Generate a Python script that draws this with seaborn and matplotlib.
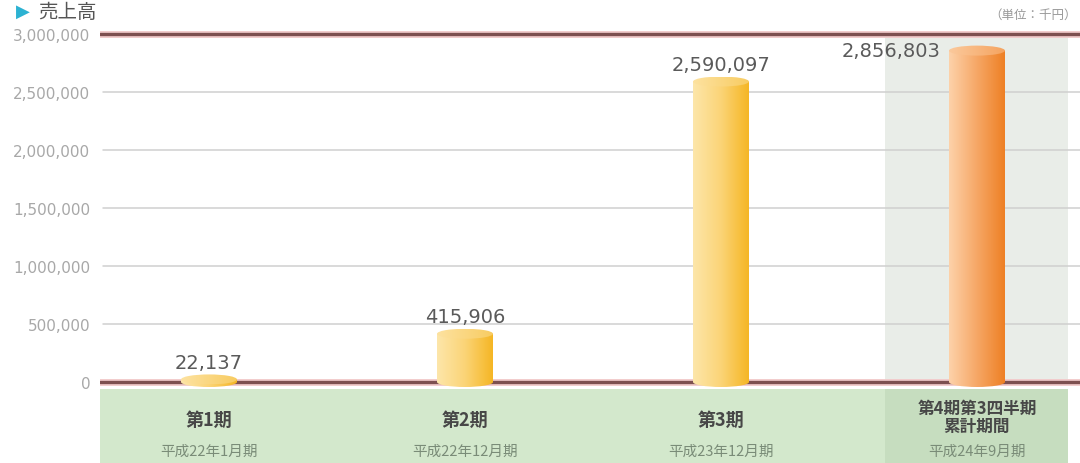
import numpy as np
import matplotlib
matplotlib.use("Agg")
import matplotlib.pyplot as plt
import seaborn as sns
import pandas as pd
from matplotlib.patches import Ellipse, Rectangle
from matplotlib.colors import LinearSegmentedColormap

# ---------------- data ----------------
periods = ["第1期", "第2期", "第3期", "第4期第3四半期\n累計期間"]
period_dates = ["平成22年1月期", "平成22年12月期", "平成23年12月期", "平成24年9月期"]
sales = [22137, 415906, 2590097, 2856803]
value_labels = ["22,137", "415,906", "2,590,097", "2,856,803"]
yticks = [0, 500000, 1000000, 1500000, 2000000, 2500000, 3000000]
ytick_labels = ["0", "500,000", "1,000,000", "1,500,000", "2,000,000", "2,500,000", "3,000,000"]
title = "売上高"
unit_label = "（単位：千円）"

# ---------------- style ----------------
sns.set_theme(style="white")
plt.rcParams['font.family'] = ['Noto Sans CJK JP', 'DejaVu Sans']

W, H = 1080, 464
fig = plt.figure(figsize=(W / 100, H / 100), dpi=100)
fig.patch.set_facecolor("white")
ax = fig.add_axes([100 / W, 0, 980 / W, 1])
ax.set_facecolor("none")

PX = 3e6 / 348.0          # data units per pixel (vertical)
UX = 256.0                # pixels per category (horizontal)
BW = 56 / UX              # bar width in category units
EH = 10 * PX              # ellipse height for cylinder caps

df = pd.DataFrame({"period": periods, "sales": sales})
sns.barplot(data=df, x="period", y="sales", ax=ax, width=BW, color="#f6c040",
            saturation=1, zorder=3)
bars = list(ax.patches)

ax.set_ylim(-81 * PX, 3e6 + 35 * PX)
ax.set_xlim(-109 / UX, 871 / UX)

for s in ax.spines.values():
    s.set_visible(False)

# ---------------- backgrounds ----------------
x_col0 = (885 - 209) / UX
x_col1 = (1068 - 209) / UX
x_left = (100 - 209) / UX
ax.add_patch(Rectangle((x_col0, 0), x_col1 - x_col0, 3e6, facecolor="#e9ede8",
                       edgecolor="none", zorder=0))
ax.add_patch(Rectangle((x_left, -81 * PX), x_col1 - x_left, 74 * PX,
                       facecolor="#d3e8cc", edgecolor="none", zorder=0))
ax.add_patch(Rectangle((x_col0, -81 * PX), x_col1 - x_col0, 74 * PX,
                       facecolor="#c6ddbf", edgecolor="none", zorder=0.5))

# ---------------- grid lines ----------------
for t in yticks[1:-1]:
    ax.axhline(t, xmin=3 / 980, color="#cfcfcf", lw=1.1, zorder=1)
for t in (yticks[0], yticks[-1]):
    ax.axhline(t, color="#f2cccc", lw=5, zorder=1.5)
    ax.axhline(t, color="#7d5050", lw=2.4, zorder=1.6)

# ---------------- cylinder bars ----------------
grad = np.linspace(0, 1, 256).reshape(1, -1)
body_yellow = LinearSegmentedColormap.from_list("by", ["#fde6aa", "#fbd477", "#f5b624"])
top_yellow = LinearSegmentedColormap.from_list("ty", ["#fde2a0", "#f8cc62"])
body_orange = LinearSegmentedColormap.from_list("bo", ["#fdd2aa", "#f6a766", "#ee8024"])
top_orange = LinearSegmentedColormap.from_list("to", ["#fbc99c", "#f5a460"])

for i, p in enumerate(bars):
    x0 = p.get_x()
    w = p.get_width()
    cx = x0 + w / 2
    v = sales[i]
    cm_body = body_orange if i == 3 else body_yellow
    cm_top = top_orange if i == 3 else top_yellow
    p.set_facecolor("none")
    p.set_edgecolor("none")
    # body
    im = ax.imshow(grad, extent=[x0, x0 + w, 0, v], aspect="auto", cmap=cm_body,
                   interpolation="bicubic", zorder=3)
    im.set_clip_path(p)
    # bottom cap
    eb = Ellipse((cx, 0), w, EH, facecolor="none", edgecolor="none", zorder=3)
    ax.add_patch(eb)
    im2 = ax.imshow(grad, extent=[x0, x0 + w, -EH / 2, EH / 2], aspect="auto",
                    cmap=cm_body, interpolation="bicubic", zorder=3)
    im2.set_clip_path(eb)
    # top cap
    et = Ellipse((cx, v), w, EH, facecolor="none", edgecolor="none", zorder=4)
    ax.add_patch(et)
    im3 = ax.imshow(grad, extent=[x0, x0 + w, v - EH / 2, v + EH / 2], aspect="auto",
                    cmap=cm_top, interpolation="bicubic", zorder=4)
    im3.set_clip_path(et)

ax.set_ylim(-81 * PX, 3e6 + 35 * PX)
ax.set_xlim(-109 / UX, 871 / UX)

# ---------------- value labels ----------------
for i in range(3):
    ax.annotate(value_labels[i], (i, sales[i] + EH / 2), xytext=(0, 2),
                textcoords="offset points", ha="center", va="bottom",
                fontsize=14, color="#5a5a5a", family="DejaVu Sans", zorder=5)
ax.annotate(value_labels[3], (3 - BW / 2, sales[3]), xytext=(-6, 0),
            textcoords="offset points", ha="right", va="center",
            fontsize=14, color="#5a5a5a", family="DejaVu Sans", zorder=5)

# ---------------- axis ticks ----------------
ax.set_yticks(yticks)
ax.set_yticklabels(ytick_labels, fontsize=11, color="#a8a8a8", family="DejaVu Sans")
ax.tick_params(axis="y", length=0, pad=7)
ax.tick_params(axis="x", length=0, labelbottom=False)
ax.set_xlabel("")
ax.set_ylabel("")

# ---------------- category labels ----------------
tr = ax.get_xaxis_transform()
for i, lab in enumerate(periods):
    if "\n" in lab:
        ax.text(i, 1 - 417.5 / H, lab, transform=tr, ha="center", va="center",
                fontsize=12, color="#474747", fontweight="bold", linespacing=1.0)
    else:
        ax.text(i, 1 - 420 / H, lab, transform=tr, ha="center", va="center",
                fontsize=13, color="#474747", fontweight="bold")
    ax.text(i, 1 - 452 / H, period_dates[i], transform=tr, ha="center", va="center",
            fontsize=10.5, color="#7a8c78")

# ---------------- title / unit ----------------
fig.text(38 / W, 1 - 12 / H, title, ha="left", va="center", fontsize=14, color="#555555")
fig.text(16 / W, 1 - 12 / H, "▶", ha="left", va="center", fontsize=13, color="#2cb2d2",
         family="DejaVu Sans")
fig.text(1077 / W, 1 - 15 / H, unit_label, ha="right", va="center", fontsize=9,
         color="#999999")

fig.savefig("out.png", dpi=100)
